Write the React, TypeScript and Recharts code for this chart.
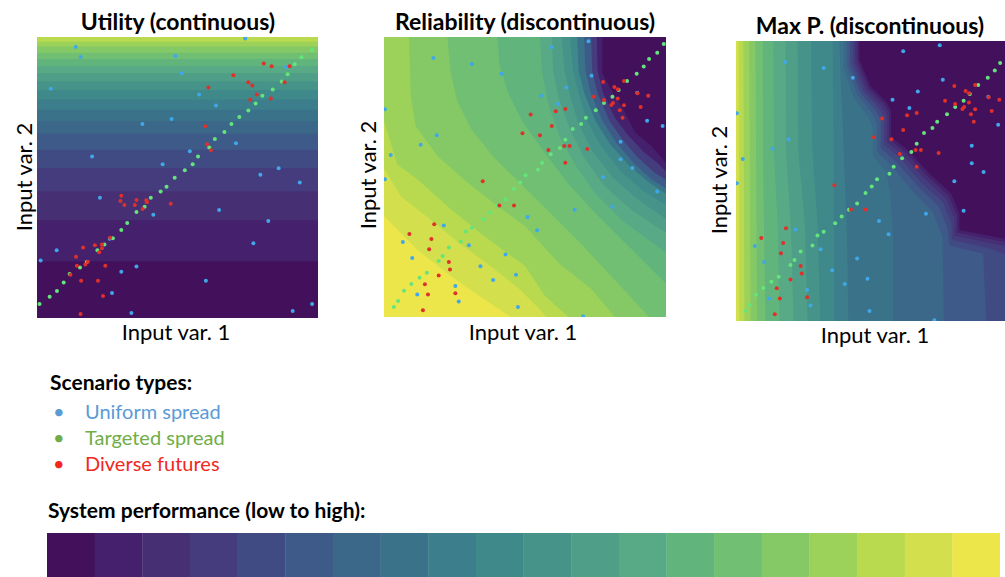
import { ComposedChart, Area, Scatter, XAxis, YAxis, BarChart, Bar, Cell } from "recharts";

type Pt = [number, number];
type Layer = { level: number; pts: Pt[] };

// 20 discrete viridis steps, as shown in the colour bar
const PALETTE = [
  "#43115b", "#45206c", "#472f74", "#453c7d", "#414b83",
  "#3e5a88", "#3b6789", "#3a728a", "#3c7e8b", "#3f898a",
  "#46938a", "#4f9e87", "#58a985", "#62b47d", "#71bf72",
  "#84c965", "#9cd25a", "#b9da4f", "#d3df4c", "#ede64a",
];

// Utility: horizontal bands, band i (from the bottom) has colour PALETTE[i]
const UTIL_BAND_TOPS = [
  0.202, 0.348, 0.451, 0.534, 0.599, 0.656, 0.701, 0.741, 0.778,
  0.811, 0.842, 0.871, 0.897, 0.922, 0.944, 0.966, 0.983, 1.0,
];

const UTIL_UNIFORM: Pt[] = [
  [0.138, 0.964], [0.155, 0.929], [0.741, 0.995], [0.493, 0.932], [0.515, 0.871],
  [0.049, 0.816], [0.577, 0.795], [0.637, 0.756], [0.479, 0.708], [0.375, 0.69],
  [0.708, 0.622], [0.544, 0.593], [0.196, 0.575], [0.447, 0.547], [0.86, 0.533],
  [0.795, 0.51], [0.935, 0.482], [0.224, 0.428], [0.648, 0.384], [0.414, 0.367],
  [0.823, 0.345], [0.77, 0.266], [0.07, 0.241], [0.013, 0.205], [0.354, 0.183],
  [0.3, 0.165], [0.601, 0.133], [0.267, 0.089], [0.336, 0.018], [0.91, 0.025],
  [0.979, 0.05], [0.886, 0.893], [0.259, 0.282],
];

const UTIL_TARGETED: Pt[] = [
  [0.009, 0.05], [0.045, 0.076], [0.071, 0.096], [0.095, 0.126], [0.116, 0.157],
  [0.153, 0.18], [0.177, 0.199], [0.215, 0.241], [0.24, 0.262], [0.27, 0.284],
  [0.3, 0.313], [0.321, 0.338], [0.354, 0.377], [0.383, 0.396], [0.405, 0.428],
  [0.44, 0.45], [0.461, 0.467], [0.49, 0.499], [0.526, 0.526], [0.554, 0.547],
  [0.573, 0.575], [0.613, 0.607], [0.633, 0.637], [0.667, 0.662], [0.692, 0.69],
  [0.72, 0.715], [0.752, 0.738], [0.778, 0.763], [0.802, 0.791], [0.839, 0.813],
  [0.871, 0.842], [0.892, 0.867], [0.917, 0.903], [0.941, 0.928], [0.979, 0.954],
];

const UTIL_DIVERSE: Pt[] = [
  [0.807, 0.906], [0.835, 0.896], [0.899, 0.896], [0.699, 0.864], [0.752, 0.839],
  [0.766, 0.827], [0.61, 0.82], [0.881, 0.839], [0.782, 0.795], [0.759, 0.777],
  [0.832, 0.781], [0.598, 0.682], [0.605, 0.618], [0.619, 0.597], [0.3, 0.435],
  [0.297, 0.416], [0.311, 0.402], [0.354, 0.42], [0.348, 0.402], [0.389, 0.419],
  [0.391, 0.412], [0.376, 0.388], [0.476, 0.407], [0.164, 0.251], [0.206, 0.259],
  [0.231, 0.262], [0.231, 0.248], [0.221, 0.234], [0.139, 0.218], [0.181, 0.2],
  [0.172, 0.19], [0.142, 0.186], [0.243, 0.186], [0.119, 0.154], [0.157, 0.133],
  [0.217, 0.133], [0.235, 0.078], [0.155, 0.014], [0.26, 0.286],
];

// Scenario points shared by the Reliability and Max P. panels
const SHARED_UNIFORM: Pt[] = [
  [0.175, 0.925], [0.312, 0.904], [0.416, 0.869], [0.187, 0.649], [0.13, 0.615],
  [0.024, 0.579], [0.003, 0.492], [0.212, 0.327], [0.067, 0.268], [0.301, 0.256],
  [0.1, 0.211], [0.431, 0.223], [0.342, 0.181], [0.468, 0.151], [0.387, 0.132],
  [0.253, 0.111], [0.118, 0.08], [0.265, 0.055], [0.475, 0.036], [0.003, 0.742],
  [0.725, 0.985], [0.595, 0.963], [0.736, 0.862], [0.647, 0.82], [0.557, 0.79],
  [0.617, 0.761], [0.839, 0.626], [0.839, 0.563], [0.881, 0.532], [0.777, 0.499],
  [0.969, 0.448], [0.676, 0.383], [0.81, 0.394], [0.509, 0.357], [0.543, 0.31],
  [0.933, 0.701], [0.988, 0.682], [0.898, 0.801], [0.706, 0.003],
];

const SHARED_TARGETED: Pt[] = [
  [0.035, 0.036], [0.05, 0.057], [0.071, 0.094], [0.097, 0.118], [0.126, 0.14],
  [0.152, 0.158], [0.194, 0.2], [0.208, 0.218], [0.23, 0.248], [0.272, 0.27],
  [0.29, 0.305], [0.312, 0.319], [0.353, 0.349], [0.376, 0.373], [0.402, 0.397],
  [0.431, 0.42], [0.461, 0.457], [0.483, 0.48], [0.502, 0.506], [0.546, 0.526],
  [0.561, 0.551], [0.591, 0.581], [0.624, 0.604], [0.643, 0.633], [0.669, 0.671],
  [0.699, 0.689], [0.716, 0.712], [0.751, 0.738], [0.78, 0.764], [0.81, 0.787],
  [0.832, 0.811], [0.862, 0.843], [0.896, 0.869], [0.921, 0.895], [0.94, 0.921],
  [0.969, 0.944], [0.992, 0.975],
];

const SHARED_DIVERSE: Pt[] = [
  [0.138, 0.024], [0.156, 0.08], [0.253, 0.085], [0.145, 0.117], [0.194, 0.148],
  [0.234, 0.17], [0.23, 0.196], [0.16, 0.242], [0.168, 0.279], [0.09, 0.296],
  [0.178, 0.331], [0.35, 0.485], [0.409, 0.398], [0.461, 0.398], [0.491, 0.656],
  [0.52, 0.723], [0.609, 0.735], [0.643, 0.743], [0.595, 0.682], [0.553, 0.649],
  [0.583, 0.596], [0.639, 0.611], [0.658, 0.611], [0.721, 0.6], [0.643, 0.551],
  [0.777, 0.839], [0.851, 0.843], [0.817, 0.821], [0.829, 0.813], [0.744, 0.787],
  [0.78, 0.775], [0.829, 0.78], [0.812, 0.764], [0.806, 0.757], [0.851, 0.756],
  [0.836, 0.738], [0.846, 0.712], [0.899, 0.799], [0.937, 0.79], [0.91, 0.75],
];

// Reliability contours: region below each line takes that level's colour
const REL_LEVELS = [0, 1, 3, 5, 7, 9, 10, 11, 12, 13, 14, 15, 16, 17, 18, 19];
const REL_LINES: Pt[][] = [
  [[0, 1], [1, 1]],
  [[0, 1], [0.774, 1], [0.774, 0.87], [0.807, 0.81], [0.855, 0.73], [0.89, 0.66], [0.949, 0.61], [1, 0.55]],
  [[0, 1], [0.755, 1], [0.757, 0.88], [0.777, 0.8], [0.82, 0.71], [0.865, 0.65], [0.92, 0.59], [0.97, 0.55], [1, 0.52]],
  [[0, 1], [0.735, 1], [0.738, 0.88], [0.757, 0.8], [0.8, 0.7], [0.845, 0.635], [0.9, 0.57], [0.96, 0.515], [1, 0.49]],
  [[0, 1], [0.71, 1], [0.714, 0.88], [0.733, 0.8], [0.775, 0.7], [0.822, 0.625], [0.885, 0.55], [0.95, 0.49], [1, 0.46]],
  [[0, 1], [0.685, 1], [0.69, 0.88], [0.71, 0.8], [0.75, 0.7], [0.8, 0.62], [0.87, 0.54], [0.94, 0.48], [1, 0.44]],
  [[0, 1], [0.66, 1], [0.67, 0.88], [0.69, 0.8], [0.72, 0.7], [0.77, 0.61], [0.84, 0.52], [0.92, 0.45], [1, 0.4]],
  [[0, 1], [0.63, 1], [0.64, 0.88], [0.66, 0.79], [0.69, 0.69], [0.74, 0.59], [0.81, 0.5], [0.9, 0.42], [1, 0.35]],
  [[0, 1], [0.595, 1], [0.6, 0.88], [0.62, 0.78], [0.66, 0.67], [0.71, 0.57], [0.78, 0.47], [0.88, 0.38], [1, 0.3]],
  [[0, 1], [0.553, 1], [0.56, 0.88], [0.58, 0.77], [0.62, 0.65], [0.68, 0.54], [0.75, 0.44], [0.85, 0.34], [1, 0.23]],
  [[0, 1], [0.402, 1], [0.41, 0.9], [0.44, 0.8], [0.49, 0.7], [0.56, 0.6], [0.65, 0.48], [0.75, 0.37], [0.87, 0.25], [1, 0.12]],
  [[0, 1], [0.225, 1], [0.235, 0.88], [0.26, 0.77], [0.31, 0.67], [0.39, 0.57], [0.48, 0.48], [0.58, 0.38], [0.7, 0.26], [0.82, 0.13], [0.94, 0]],
  [[0, 1], [0.089, 1], [0.095, 0.789], [0.112, 0.682], [0.189, 0.575], [0.296, 0.48], [0.402, 0.396], [0.5, 0.325], [0.618, 0.194], [0.736, 0.099], [0.819, 0]],
  [[0, 0.7], [0.047, 0.545], [0.118, 0.492], [0.237, 0.385], [0.355, 0.289], [0.5, 0.182], [0.571, 0.075], [0.654, 0]],
  [[0, 0.53], [0.06, 0.43], [0.15, 0.36], [0.26, 0.27], [0.38, 0.18], [0.48, 0.1], [0.55, 0.03], [0.575, 0]],
  [[0, 0.361], [0.118, 0.24], [0.237, 0.146], [0.355, 0.063], [0.449, 0]],
];

// Max P. contours
const MAXP_LEVELS = [0, 1, 2, 3, 4, 5, 6, 7, 8, 9, 10, 11, 12, 13, 14, 15, 16, 17, 18];
const MAXP_LINES: Pt[][] = [
  [[0, 1], [1, 1]],
  [[0, 1], [0.439, 1], [0.439, 0.932], [0.48, 0.837], [0.534, 0.783], [0.552, 0.754], [0.552, 0.658], [0.611, 0.611], [0.688, 0.527], [0.765, 0.456], [0.795, 0.385], [0.795, 0.325], [0.919, 0.301], [1, 0.285]],
  [[0, 1], [0.432, 1], [0.432, 0.93], [0.472, 0.832], [0.527, 0.776], [0.545, 0.747], [0.545, 0.65], [0.604, 0.602], [0.681, 0.518], [0.757, 0.447], [0.787, 0.376], [0.787, 0.316], [0.915, 0.29], [1, 0.275]],
  [[0, 1], [0.424, 1], [0.424, 0.926], [0.463, 0.826], [0.518, 0.768], [0.536, 0.738], [0.536, 0.64], [0.595, 0.592], [0.672, 0.507], [0.748, 0.436], [0.778, 0.365], [0.778, 0.305], [0.91, 0.277], [1, 0.26]],
  [[0, 1], [0.415, 1], [0.415, 0.922], [0.454, 0.82], [0.508, 0.76], [0.526, 0.728], [0.526, 0.63], [0.585, 0.58], [0.66, 0.494], [0.737, 0.423], [0.766, 0.35], [0.768, 0.29], [0.9, 0.26], [1, 0.22]],
  [[0, 1], [0.405, 1], [0.405, 0.917], [0.444, 0.813], [0.497, 0.752], [0.515, 0.717], [0.515, 0.618], [0.572, 0.566], [0.647, 0.48], [0.722, 0.408], [0.752, 0.335], [0.76, 0.27], [0.88, 0.24], [0.89, 0]],
  [[0, 1], [0.395, 1], [0.395, 0.912], [0.433, 0.805], [0.485, 0.742], [0.502, 0.705], [0.502, 0.605], [0.557, 0.55], [0.63, 0.462], [0.7, 0.39], [0.735, 0.3], [0.74, 0]],
  [[0, 1], [0.383, 1], [0.383, 0.905], [0.42, 0.795], [0.47, 0.73], [0.487, 0.69], [0.487, 0.59], [0.535, 0.53], [0.55, 0.45], [0.56, 0.3], [0.56, 0]],
  [[0, 1], [0.368, 1], [0.372, 0.88], [0.38, 0.7], [0.395, 0.3], [0.4, 0]],
  [[0, 1], [0.344, 1], [0.346, 0.8], [0.348, 0.5], [0.35, 0]],
  [[0, 1], [0.267, 1], [0.272, 0.6], [0.29, 0.35], [0.3, 0]],
  [[0, 1], [0.219, 1], [0.222, 0.6], [0.245, 0.35], [0.255, 0]],
  [[0, 1], [0.176, 1], [0.178, 0.6], [0.195, 0.35], [0.205, 0]],
  [[0, 1], [0.133, 1], [0.135, 0.6], [0.148, 0.35], [0.155, 0]],
  [[0, 1], [0.095, 1], [0.097, 0.5], [0.105, 0]],
  [[0, 1], [0.069, 1], [0.075, 0]],
  [[0, 1], [0.047, 1], [0.052, 0]],
  [[0, 1], [0.026, 1], [0.03, 0]],
  [[0, 1], [0.0095, 1], [0.012, 0]],
];

const BLUE = "#3fa7ea";
const GREEN = "#64e57c";
const RED = "#e0302a";
const FONT = "Lato, 'Open Sans', sans-serif";

const toXY = (pts: Pt[]) => pts.map(([x, y]) => ({ x, y }));

const dot = (color: string) => (p: any) => <circle cx={p.cx} cy={p.cy} r={2} fill={color} />;

function ContourPanel({ left, top, w, h, layers, uniform, targeted, diverse }: {
  left: number; top: number; w: number; h: number; layers: Layer[];
  uniform: Pt[]; targeted: Pt[]; diverse: Pt[];
}) {
  return (
    <div style={{ position: "absolute", left, top }}>
      <ComposedChart width={w} height={h} margin={{ top: 0, right: 0, bottom: 0, left: 0 }}>
        <XAxis type="number" dataKey="x" domain={[0, 1]} hide allowDataOverflow />
        <YAxis type="number" dataKey="y" domain={[0, 1]} hide allowDataOverflow />
        {layers.map((l, i) => (
          <Area
            key={i}
            data={toXY(l.pts)}
            dataKey="y"
            type="linear"
            fill={PALETTE[l.level]}
            fillOpacity={1}
            stroke="none"
            dot={false}
            activeDot={false}
            isAnimationActive={false}
          />
        ))}
        <Scatter data={toXY(uniform)} dataKey="y" shape={dot(BLUE)} isAnimationActive={false} />
        <Scatter data={toXY(targeted)} dataKey="y" shape={dot(GREEN)} isAnimationActive={false} />
        <Scatter data={toXY(diverse)} dataKey="y" shape={dot(RED)} isAnimationActive={false} />
      </ComposedChart>
    </div>
  );
}

export default function App() {
  // paint from the top band downwards so lower bands sit on top
  const utilLayers: Layer[] = UTIL_BAND_TOPS.map((t, i) => ({ level: i, pts: [[0, t], [1, t]] as Pt[] })).reverse();
  const relLayers: Layer[] = REL_LINES.map((pts, i) => ({ level: REL_LEVELS[i], pts }));
  const maxpLayers: Layer[] = MAXP_LINES.map((pts, i) => ({ level: MAXP_LEVELS[i], pts }));
  const barData = PALETTE.map((c, i) => ({ name: i, v: 1 }));

  return (
    <div style={{ position: "absolute", left: 0, top: 0, width: 1005, height: 577, overflow: "hidden", background: "#fff" }}>
      <ContourPanel left={37} top={37} w={281} h={281} layers={utilLayers}
        uniform={UTIL_UNIFORM} targeted={UTIL_TARGETED} diverse={UTIL_DIVERSE} />
      <ContourPanel left={384} top={37} w={282} h={280} layers={relLayers}
        uniform={SHARED_UNIFORM} targeted={SHARED_TARGETED} diverse={SHARED_DIVERSE} />
      <ContourPanel left={736} top={41} w={281} h={280} layers={maxpLayers}
        uniform={SHARED_UNIFORM} targeted={SHARED_TARGETED} diverse={SHARED_DIVERSE} />

      <div style={{ position: "absolute", left: 47, top: 533 }}>
        <BarChart width={953} height={44} data={barData} margin={{ top: 0, right: 0, bottom: 0, left: 0 }} barCategoryGap={0} barGap={0}>
          <XAxis dataKey="name" hide />
          <YAxis domain={[0, 1]} hide />
          <Bar dataKey="v" isAnimationActive={false}>
            {barData.map((d) => <Cell key={d.name} fill={PALETTE[d.name]} />)}
          </Bar>
        </BarChart>
      </div>

      <svg width={1005} height={577} style={{ position: "absolute", left: 0, top: 0, pointerEvents: "none" }} fontFamily={FONT}>
        <g fontWeight={700} fontSize={23} textAnchor="middle" fill="#000">
          <text x={178} y={30}>Utility (continuous)</text>
          <text x={525} y={30}>Reliability (discontinuous)</text>
          <text x={870} y={34}>Max P. (discontinuous)</text>
        </g>
        <g fontSize={22} textAnchor="middle" fill="#000">
          <text x={176} y={340}>Input var. 1</text>
          <text x={523} y={340}>Input var. 1</text>
          <text x={875} y={343}>Input var. 1</text>
          <text transform="translate(32,177) rotate(-90)">Input var. 2</text>
          <text transform="translate(376,175) rotate(-90)">Input var. 2</text>
          <text transform="translate(727,180) rotate(-90)">Input var. 2</text>
        </g>
        <text x={50} y={390} fontSize={21} fontWeight={700} fill="#000">Scenario types:</text>
        <g fontSize={20}>
          <text x={53} y={419} fill="#5b9bd5">•</text>
          <text x={85} y={419} fill="#5b9bd5">Uniform spread</text>
          <text x={53} y={445} fill="#70ad47">•</text>
          <text x={85} y={445} fill="#70ad47">Targeted spread</text>
          <text x={53} y={471} fill="#f0281e">•</text>
          <text x={85} y={471} fill="#f0281e">Diverse futures</text>
        </g>
        <text x={48} y={518} fontSize={21} fontWeight={700} fill="#000">System performance (low to high):</text>
      </svg>
    </div>
  );
}
